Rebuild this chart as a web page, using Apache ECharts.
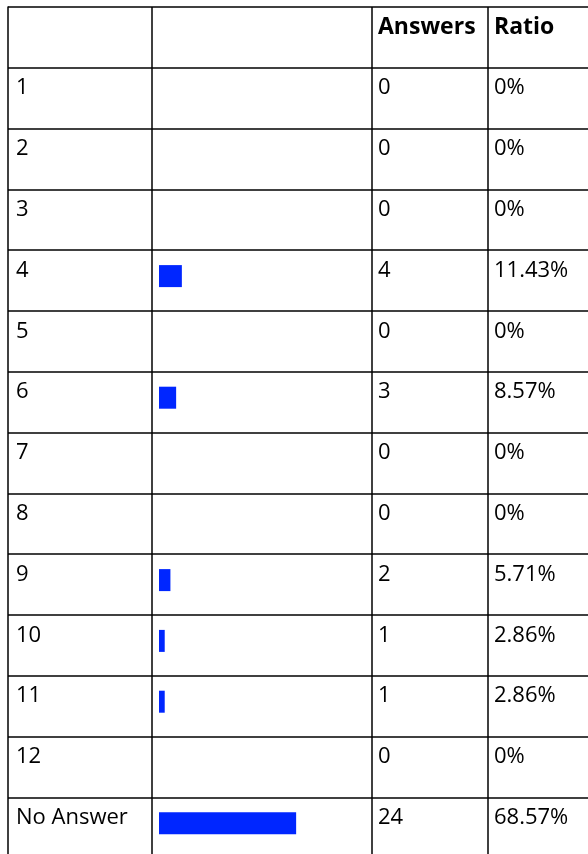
<!DOCTYPE html>
<html>
<head>
<meta charset="utf-8">
<script src="https://cdn.jsdelivr.net/npm/echarts@6/dist/echarts.min.js"></script>
<style>
  html, body { margin: 0; padding: 0; background: #fff; }
  #myTable { width: 588px; height: 854px; }
</style>
</head>
<body>
<div id="myTable"></div>
<script>
var myChart = echarts.init(document.getElementById('myTable'));

// table data
var headers = ['Answers', 'Ratio'];
var categories = ['1', '2', '3', '4', '5', '6', '7', '8', '9', '10', '11', '12', 'No Answer'];
var answers = [0, 0, 0, 4, 0, 3, 0, 0, 2, 1, 1, 0, 24];
var ratios = [0, 0, 0, 11.43, 0, 8.57, 0, 0, 5.71, 2.86, 2.86, 0, 68.57];

// first row is the header
var rows = [''].concat(categories);

var rowH = 60.8;
var top0 = 7;
var tableH = rowH * rows.length;
var nameX = 8;        // grid units = px from left border
var answersX = 370;
var ratioX = 486;

var nameData = [];
var answerData = [];
var ratioData = [];
for (var i = 0; i < categories.length; i++) {
    nameData.push([nameX, i + 1, categories[i]]);
    answerData.push([answersX, i + 1, answers[i]]);
    ratioData.push([ratioX, i + 1, ratios[i] + '%']);
}
var headerData = [[answersX, 0, headers[0]], [ratioX, 0, headers[1]]];

var txt = {
    show: true,
    position: 'right',
    distance: 0,
    offset: [0, -10],
    fontFamily: 'Open Sans',
    fontSize: 22,
    color: '#000',
    formatter: function (p) { return p.value[2]; }
};

function textSeries(name, data, label) {
    return {
        name: name,
        type: 'scatter',
        symbolSize: 0,
        itemStyle: {opacity: 1},
        data: data,
        label: label || txt,
        silent: true
    };
}

option = {
    backgroundColor: '#fff',
    animation: false,
    grid: [
        {left: 8, top: top0, width: 600, height: tableH, outerBoundsMode: 'none'},
        {left: 159, top: top0 - 4.5, width: 200, height: tableH, outerBoundsMode: 'none'}
    ],
    xAxis: [
        {type: 'value', gridIndex: 0, min: 0, max: 600, show: false},
        {type: 'value', gridIndex: 1, min: 0, max: 100, show: false}
    ],
    yAxis: [
        {
            type: 'category',
            gridIndex: 0,
            inverse: true,
            data: rows,
            axisLine: {show: true, lineStyle: {color: '#000', width: 1.5}},
            axisTick: {show: false},
            axisLabel: {show: false},
            splitLine: {show: true, interval: 0, lineStyle: {color: '#000', width: 1.5}}
        },
        {
            type: 'category',
            gridIndex: 1,
            inverse: true,
            data: rows,
            show: false
        }
    ],
    series: [
        {
            name: 'bars',
            type: 'bar',
            xAxisIndex: 1,
            yAxisIndex: 1,
            barWidth: 22,
            data: ['-'].concat(ratios),
            itemStyle: {color: '#0026ff'},
            silent: true
        },
        textSeries('name', nameData),
        Object.assign(textSeries('Answers', answerData), {
            markLine: {
                silent: true,
                symbol: 'none',
                label: {show: false},
                lineStyle: {color: '#000', width: 1.5, type: 'solid', opacity: 1},
                data: [{xAxis: 144}, {xAxis: 364}, {xAxis: 480}]
            }
        }),
        textSeries('Ratio', ratioData),
        textSeries('header', headerData, Object.assign({}, txt, {fontWeight: 'bold', fontSize: 23}))
    ]
};

myChart.setOption(option);
</script>
</body>
</html>
